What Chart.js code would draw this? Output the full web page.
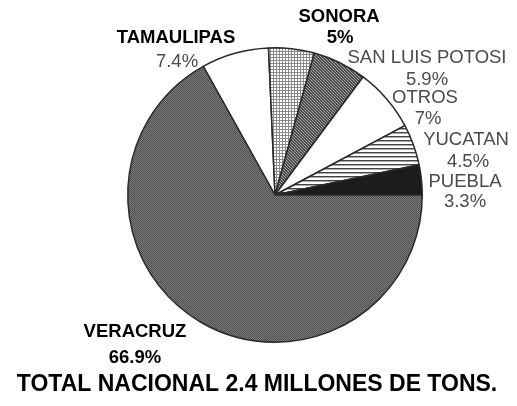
<!DOCTYPE html>
<html lang="es">
<head>
<meta charset="UTF-8">
<title>Producción por estado</title>
<script src="https://cdn.jsdelivr.net/npm/chart.js"></script>
<style>
  html, body { margin: 0; padding: 0; background: #fff; }
  #wrap { width: 517px; height: 406px; }
</style>
</head>
<body>
<div id="wrap"><canvas id="pastel" width="517" height="406"></canvas></div>
<script>
// Datos (orden en el sentido del reloj desde arriba)
const estados = ['TAMAULIPAS', 'SONORA', 'SAN LUIS POTOSI', 'OTROS', 'YUCATAN', 'PUEBLA', 'VERACRUZ'];
const porcentajes = [7.4, 5, 5.9, 7, 4.5, 3.3, 66.9];
const etiquetas = ['7.4%', '5%', '5.9%', '7%', '4.5%', '3.3%', '66.9%'];
const titulo = 'TOTAL NACIONAL 2.4 MILLONES DE TONS.';

// Tramas tipo impresión para cada rebanada
function trama(size, fondo, pintar) {
  const c = document.createElement('canvas');
  c.width = size; c.height = size;
  const g = c.getContext('2d');
  g.fillStyle = fondo;
  g.fillRect(0, 0, size, size);
  for (let y = 0; y < size; y++) {
    for (let x = 0; x < size; x++) {
      const col = pintar(x, y);
      if (col) { g.fillStyle = col; g.fillRect(x, y, 1, 1); }
    }
  }
  return g.createPattern(c, 'repeat');
}

const tramaVeracruz = trama(2, '#7c7c7c', (x, y) => ((x + y) % 2 === 0 ? '#4e4e4e' : null));
const tramaSonora = trama(3, '#fff', (x, y) => (x === 0 || y === 0 ? '#8a8a8a' : null));
const tramaSLP = trama(3, '#4a4a4a', (x, y) => ((x - y + 3) % 3 === 0 ? '#a8a8a8' : null));
const tramaYucatan = trama(4, '#fff', (x, y) => (y === 0 ? '#444' : y === 1 ? '#aaa' : null));

const colores = ['#ffffff', tramaSonora, tramaSLP, '#ffffff', tramaYucatan, '#1c1c1c', tramaVeracruz];

// posiciones de los textos: centro del nombre y del porcentaje
const posNombres = [[176, 38], [339, 17], [427, 58], [425, 98], [466, 140], [465, 182], [135, 332]];
const posPorcentajes = [[177, 62], [340, 38], [427, 80], [428, 119], [468, 162], [465, 202], [135, 358]];
const nombreNegrita = [true, true, false, false, false, false, true];
const porcNegrita = [false, true, false, false, false, false, true];

const FUENTE = '"Liberation Sans", Arial, sans-serif';

function escribir(ctx, texto, [x, y], negrita) {
  if (negrita) {
    ctx.fillStyle = '#000';
    ctx.font = 'bold 18.5px ' + FUENTE;
  } else {
    ctx.fillStyle = '#4a4a4a';
    ctx.font = '18.5px ' + FUENTE;
  }
  ctx.fillText(texto, x, y);
}

const textos = {
  id: 'textos',
  afterDraw(chart) {
    const ctx = chart.ctx;
    ctx.save();
    ctx.textAlign = 'center';
    ctx.textBaseline = 'middle';
    estados.forEach((nombre, i) => {
      escribir(ctx, nombre, posNombres[i], nombreNegrita[i]);
      escribir(ctx, etiquetas[i], posPorcentajes[i], porcNegrita[i]);
    });
    ctx.fillStyle = '#000';
    ctx.font = 'bold 23px ' + FUENTE;
    ctx.fillText(titulo, 257, 385);
    ctx.restore();
  }
};

// rotación: Veracruz empieza a las 3 en punto
const antes = porcentajes.slice(0, 6).reduce((a, b) => a + b, 0);
const rotacion = 90 - antes * 3.6;

new Chart(document.getElementById('pastel'), {
  type: 'pie',
  data: {
    labels: estados,
    datasets: [{
      data: porcentajes,
      backgroundColor: colores,
      borderColor: '#2a2a2a',
      borderWidth: 1.5,
      hoverOffset: 0
    }]
  },
  options: {
    responsive: false,
    animation: false,
    rotation: rotacion,
    layout: { padding: { left: 127, right: 94, top: 47, bottom: 63 } },
    plugins: {
      legend: { display: false },
      tooltip: { enabled: false },
      title: { display: false }
    },
    events: []
  },
  plugins: [textos]
});
</script>
</body>
</html>
